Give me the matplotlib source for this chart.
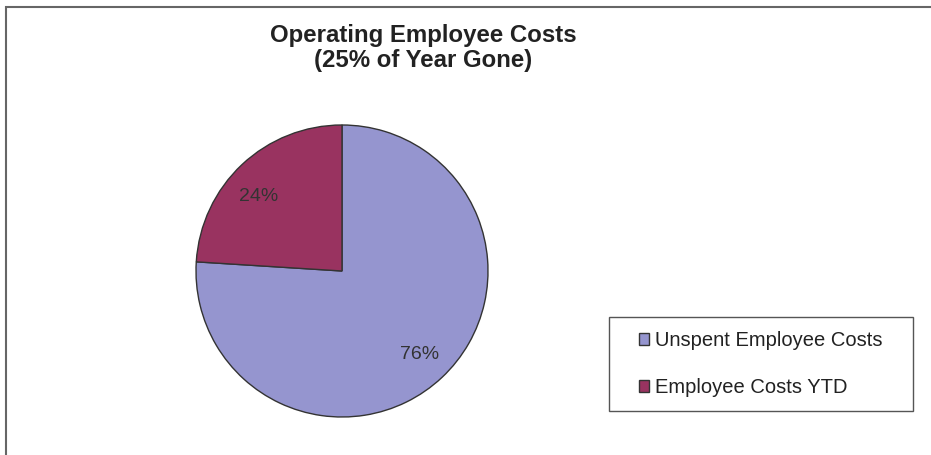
import matplotlib
matplotlib.use("Agg")
import matplotlib.pyplot as plt
from matplotlib.patches import Rectangle

# data
labels = ["Unspent Employee Costs", "Employee Costs YTD"]
values = [76, 24]
colours = ["#9595cf", "#993360"]
title = "Operating Employee Costs\n(25% of Year Gone)"

plt.rcParams["font.family"] = ["Liberation Sans", "DejaVu Sans"]

W, H = 931, 455
fig = plt.figure(figsize=(W / 100, H / 100), dpi=100)

# outer border of the chart area
fig.patches.append(Rectangle((6 / W, -0.1), 1.1, 1 - 7 / H + 0.1, transform=fig.transFigure,
                             fill=False, edgecolor="#666666", linewidth=1.5))

# pie axes placed in pixels: centre (342, 271), radius 146
cx, cy, r = 342, 271, 146
ax = fig.add_axes([(cx - r) / W, (H - cy - r) / H, 2 * r / W, 2 * r / H])
wedges, texts, autotexts = ax.pie(values, colors=colours, startangle=90, counterclock=False,
                                  autopct="%1.0f%%", pctdistance=0.78,
                                  wedgeprops=dict(edgecolor="#333333", linewidth=1.0),
                                  textprops=dict(fontsize=14, color="#333333"))
ax.set_xlim(-1, 1)
ax.set_ylim(-1, 1)
# small nudge of the 24% label, as in the original
x, y = autotexts[1].get_position()
autotexts[1].set_position((x - 0.04, y - 0.06))

fig.text(423 / W, 1 - 48 / H, title, ha="center", va="center", fontsize=17.3,
         fontweight="bold", color="#222222", linespacing=1.15)

# legend box drawn separately, entries placed inside it
fig.patches.append(Rectangle((609 / W, 1 - 411 / H), 304 / W, 94 / H, transform=fig.transFigure,
                             fill=False, edgecolor="#555555", linewidth=1.0))
leg = fig.legend(wedges, labels, loc="upper left",
                 bbox_to_anchor=(639 / W, 1 - 331 / H),
                 fontsize=14.5, frameon=False,
                 handlelength=0.5, handleheight=0.5, handletextpad=0.3,
                 labelspacing=1.4, borderpad=0, borderaxespad=0)
for t in leg.get_texts():
    t.set_color("#222222")

fig.savefig("out.png", dpi=100)
